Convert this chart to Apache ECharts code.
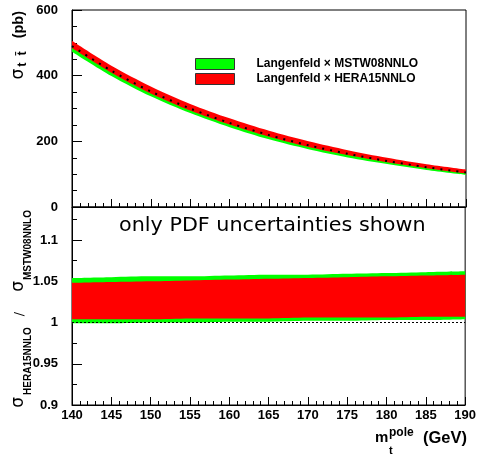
<!DOCTYPE html>
<html><head><meta charset="utf-8">
<script src="https://cdn.jsdelivr.net/npm/echarts@6/dist/echarts.min.js"></script>
<style>html,body{margin:0;padding:0;background:#fff}#c{width:479px;height:456px}</style>
</head><body><div id="c"></div>
<script>
// ---- data ----
const mass = [140,145,150,155,160,165,170,175,180,185,190];
const centralXsec = [490,415,352,300,256,219,188,162,140,121,105];
const mstwLow  = [473,399,337,286,243,206,176,151,131,113,98];
const mstwHigh = [496,420,357,305,261,223,192,166,144,124,108];
const heraLow  = [484,409,346,294,251,214,183,158,136,118,102];
const heraHigh = [506,430,367,314,270,232,200,173,150,130,114];
const ratioMstwLow  = [0.999,0.999,1.000,1.000,1.001,1.001,1.002,1.002,1.003,1.003,1.004];
const ratioMstwHigh = [1.054,1.055,1.056,1.056,1.057,1.058,1.058,1.059,1.060,1.061,1.062];
const ratioHeraLow  = [1.004,1.004,1.004,1.005,1.005,1.005,1.006,1.006,1.006,1.007,1.007];
const ratioHeraHigh = [1.048,1.049,1.050,1.051,1.052,1.053,1.054,1.055,1.056,1.057,1.058];
const refMass = [140,190];
const refRatio = [1,1];
const legendNames = ['Langenfeld \u00d7 MSTW08NNLO','Langenfeld \u00d7 HERA15NNLO'];
const ratioNames = ['MSTW08NNLO band (ratio)','HERA15NNLO band (ratio)'];

const GREEN = '#00ff00', RED = '#ff0000';
const LAB = {fontFamily:'Liberation Sans', fontWeight:'bold', fontSize:13, color:'#000'};

// data rows are [y, x] so that the stacked dimension is y
function band(name, lo, hi, color, gi, stackId) {
  const common = {type:'line', xAxisIndex:gi, yAxisIndex:gi, stack:stackId,
    encode:{x:1, y:0}, symbol:'none', smooth:0.3, silent:true, animation:false};
  return [
    Object.assign({}, common, {name: stackId+'_base',
      data: mass.map((m,i)=>[lo[i], m]), lineStyle:{width:0, opacity:0}}),
    Object.assign({}, common, {name: name,
      data: mass.map((m,i)=>[hi[i]-lo[i], m]), lineStyle:{width:0, opacity:0},
      itemStyle:{color:color}, areaStyle:{color:color, opacity:1}})
  ];
}

const series = [].concat(
  band(legendNames[0], mstwLow, mstwHigh, GREEN, 0, 'g0'),
  band(legendNames[1], heraLow, heraHigh, RED, 0, 'r0'),
  [{type:'line', name:'central', xAxisIndex:0, yAxisIndex:0, symbol:'none', smooth:0.3,
    silent:true, animation:false, data: mass.map((m,i)=>[m, centralXsec[i]]),
    lineStyle:{color:'#000', width:2, type:[2,6]}}],
  band(ratioNames[0], ratioMstwLow, ratioMstwHigh, GREEN, 1, 'g1'),
  band(ratioNames[1], ratioHeraLow, ratioHeraHigh, RED, 1, 'r1'),
  [{type:'line', name:'unity', xAxisIndex:1, yAxisIndex:1, symbol:'none', silent:true,
    animation:false, data: refMass.map((m,i)=>[m, refRatio[i]]),
    lineStyle:{color:'#000', width:1, type:[2,2]}}]
);

function xAxis(gi, showLabel) {
  return {type:'value', gridIndex:gi, min:140, max:190, interval:5,
    axisLine:{show:true, onZero:false, lineStyle:{color:'#000', width:1}},
    axisTick:{show:true, inside:true, length:8, lineStyle:{color:'#000'}},
    minorTick:{show:true, splitNumber:5, length:4, lineStyle:{color:'#000'}},
    splitLine:{show:false},
    axisLabel: Object.assign({show:showLabel, margin:4}, LAB)};
}

// ---- rotated axis titles built from pieces ----
const mctx = document.createElement('canvas').getContext('2d');
function tw(text, font) { mctx.font = font; return mctx.measureText(text).width; }
// pieces: [text, family, size, weight, ly(screen x), gapBefore]
function rotatedTitle(pieces, topY) {
  let lx = 0; const kids = [];
  pieces.forEach(p => {
    lx += p[5];
    const font = (p[3]||'normal') + ' ' + p[2] + 'px "' + p[1] + '"';
    kids.push({type:'text', x:lx, y:p[4], style:{text:p[0], fontFamily:p[1], fontSize:p[2],
      fontWeight:p[3]||'normal', fill:'#000', align:'left', verticalAlign:'middle'}});
    lx += tw(p[0], font);
  });
  return {type:'group', x:0, y:topY + lx, rotation:Math.PI/2, z:100, children:kids};
}

const titleTop = rotatedTitle([
  ['\u03c3', 'DejaVu Sans', 17, 'normal', 18.5, 0],
  ['t  t\u0304', 'Liberation Sans', 12.5, 'bold', 23, 2],
  ['(pb)', 'Liberation Sans', 14.5, 'bold', 18.5, 13]
], 11);
const titleBottom = rotatedTitle([
  ['\u03c3', 'DejaVu Sans', 17, 'normal', 18.5, 0],
  ['HERA15NNLO', 'Liberation Sans', 10, 'bold', 28, 2],
  ['/', 'DejaVu Sans', 13, 'normal', 20, 11],
  ['\u03c3', 'DejaVu Sans', 17, 'normal', 18.5, 20],
  ['MSTW08NNLO', 'Liberation Sans', 10, 'bold', 28, 1]
], 210);

const option = {
  animation:false,
  backgroundColor:'#fff',
  grid:[
    {left:72, top:10, width:394, height:197, show:true, borderColor:'#000', borderWidth:1, backgroundColor:'rgba(0,0,0,0)'},
    {left:72, top:207, width:394, height:198, show:true, borderColor:'#000', borderWidth:1, backgroundColor:'rgba(0,0,0,0)'}
  ],
  xAxis:[xAxis(0,false), xAxis(1,true)],
  yAxis:[
    {type:'value', gridIndex:0, min:0, max:600, interval:200,
      axisLine:{show:true, onZero:false, lineStyle:{color:'#000'}},
      axisTick:{inside:true, length:10, lineStyle:{color:'#000'}},
      minorTick:{show:true, splitNumber:4, length:5, lineStyle:{color:'#000'}},
      splitLine:{show:false}, axisLabel:Object.assign({margin:14}, LAB)},
    {type:'value', gridIndex:1, min:0.9, max:1.14, interval:0.05,
      axisLine:{show:true, onZero:false, lineStyle:{color:'#000'}},
      axisTick:{inside:true, length:10, lineStyle:{color:'#000'}},
      minorTick:{show:true, splitNumber:2, length:5, lineStyle:{color:'#000'}},
      splitLine:{show:false}, axisLabel:Object.assign({margin:14, showMaxLabel:false}, LAB)}
  ],
  legend:{orient:'vertical', left:190, top:53, itemWidth:39, itemHeight:11, itemGap:3,
    icon:'rect', selectedMode:false,
    textStyle:{fontFamily:'Liberation Sans', fontWeight:'bold', fontSize:12, color:'#000', padding:[0,0,0,17]},
    data:[
      {name:legendNames[0], itemStyle:{color:GREEN, borderColor:'#333', borderWidth:1}},
      {name:legendNames[1], itemStyle:{color:RED, borderColor:'#333', borderWidth:1}}
    ]},
  graphic:[
    titleTop,
    titleBottom,
    {type:'text', x:119, y:226, z:100, scaleX:1.09,
      style:{text:'only PDF uncertainties shown', fontFamily:'DejaVu Sans', fontSize:19, fill:'#000', align:'left', verticalAlign:'middle'}},
    {type:'text', x:375, y:438, z:100,
      style:{text:'m', fontFamily:'Liberation Sans', fontWeight:'bold', fontSize:15, fill:'#000', align:'left', verticalAlign:'middle'}},
    {type:'text', x:389, y:433, z:100,
      style:{text:'pole', fontFamily:'Liberation Sans', fontWeight:'bold', fontSize:12, fill:'#000', align:'left', verticalAlign:'middle'}},
    {type:'text', x:389, y:451, z:100,
      style:{text:'t', fontFamily:'Liberation Sans', fontWeight:'bold', fontSize:11, fill:'#000', align:'left', verticalAlign:'middle'}},
    {type:'text', x:467, y:438.5, z:100,
      style:{text:'(GeV)', fontFamily:'Liberation Sans', fontWeight:'bold', fontSize:16.5, fill:'#000', align:'right', verticalAlign:'middle'}}
  ],
  series: series
};
const chart = echarts.init(document.getElementById('c'), null, {renderer:'canvas'});
chart.setOption(option);
</script></body></html>
